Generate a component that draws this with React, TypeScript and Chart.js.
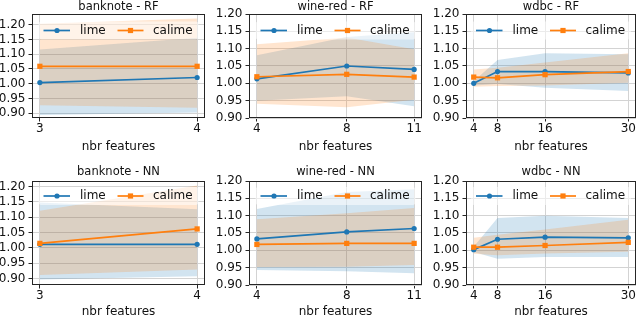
import React, { useEffect, useRef } from "react";
import { Chart, registerables } from "chart.js";

Chart.register(...registerables);

// ---------- data ----------
const titles = ["banknote - RF", "wine-red - RF", "wdbc - RF", "banknote - NN", "wine-red - NN", "wdbc - NN"];
const xLabel = "nbr features";
const legendLabels = ["lime", "calime"];

const featuresBanknote = [3, 4];
const featuresWine = [4, 8, 11];
const featuresWdbc = [4, 8, 16, 30];
const yTicks = [0.9, 0.95, 1.0, 1.05, 1.1, 1.15, 1.2];

const yLimBanknoteRF = [0.884, 1.236];
const yLimBanknoteNN = [0.8795, 1.218];
const yLimFixed = [0.9, 1.2];

// banknote - RF
const bnRfLime = [1.004, 1.021];
const bnRfLimeUp = [1.116, 1.156];
const bnRfLimeLo = [0.894, 0.903];
const bnRfCalime = [1.059, 1.059];
const bnRfCalimeUp = [1.203, 1.221];
const bnRfCalimeLo = [0.927, 0.919];

// wine-red - RF
const wrRfLime = [1.013, 1.05, 1.04];
const wrRfLimeUp = [1.081, 1.134, 1.147];
const wrRfLimeLo = [0.95, 0.963, 0.934];
const wrRfCalime = [1.019, 1.026, 1.018];
const wrRfCalimeUp = [1.113, 1.132, 1.098];
const wrRfCalimeLo = [0.941, 0.931, 0.953];

// wdbc - RF
const wdRfLime = [1.0, 1.034, 1.034, 1.03];
const wdRfLimeUp = [1.006, 1.067, 1.087, 1.084];
const wdRfLimeLo = [0.994, 0.998, 0.987, 0.978];
const wdRfCalime = [1.018, 1.016, 1.025, 1.034];
const wdRfCalimeUp = [1.04, 1.045, 1.06, 1.087];
const wdRfCalimeLo = [0.99, 0.992, 0.994, 1.002];

// banknote - NN
const bnNnLime = [1.012, 1.012];
const bnNnLimeUp = [1.148, 1.126];
const bnNnLimeLo = [0.897, 0.908];
const bnNnCalime = [1.015, 1.062];
const bnNnCalimeUp = [1.121, 1.203];
const bnNnCalimeLo = [0.912, 0.93];

// wine-red - NN
const wrNnLime = [1.033, 1.053, 1.063];
const wrNnLimeUp = [1.119, 1.168, 1.176];
const wrNnLimeLo = [0.943, 0.94, 0.934];
const wrNnCalime = [1.017, 1.02, 1.02];
const wrNnCalimeUp = [1.09, 1.107, 1.122];
const wrNnCalimeLo = [0.952, 0.953, 0.958];

// wdbc - NN
const wdNnLime = [1.002, 1.032, 1.038, 1.036];
const wdNnLimeUp = [1.01, 1.093, 1.1, 1.093];
const wdNnLimeLo = [0.995, 0.976, 0.981, 0.981];
const wdNnCalime = [1.009, 1.009, 1.014, 1.023];
const wdNnCalimeUp = [1.036, 1.045, 1.06, 1.088];
const wdNnCalimeLo = [0.99, 0.986, 0.991, 0.996];

// ---------- layout / style ----------
const COL_LEFT = [0, 213, 426];
const CANVAS_W = [213, 213, 214];
const ROW_TOP = [0, 158];
const CANVAS_H = 158;
const AREA_LEFT = [32, 36, 40];
const AREA_RIGHT = [205, 209, 212];
const AREA_TOP = [14, 23];
const AREA_BOTTOM = [118, 127];
const TITLE_BASE = [10, 17];
const XLABEL_BASE = [150, 157];
const LEGEND_OFF = [16.5, 15];
const X_AXIS_H = 30;

const BLUE = "#1f77b4";
const ORANGE = "#ff7f0e";
const BLUE_FILL = "rgba(31,119,180,0.2)";
const ORANGE_FILL = "rgba(255,127,14,0.2)";
const FONT = '"DejaVu Sans", sans-serif';

type Panel = {
  title: string;
  x: number[];
  lime: number[];
  limeUp: number[];
  limeLo: number[];
  calime: number[];
  calimeUp: number[];
  calimeLo: number[];
  yLim: number[];
  row: number;
  col: number;
};

const panels: Panel[] = [
  { title: titles[0], x: featuresBanknote, lime: bnRfLime, limeUp: bnRfLimeUp, limeLo: bnRfLimeLo, calime: bnRfCalime, calimeUp: bnRfCalimeUp, calimeLo: bnRfCalimeLo, yLim: yLimBanknoteRF, row: 0, col: 0 },
  { title: titles[1], x: featuresWine, lime: wrRfLime, limeUp: wrRfLimeUp, limeLo: wrRfLimeLo, calime: wrRfCalime, calimeUp: wrRfCalimeUp, calimeLo: wrRfCalimeLo, yLim: yLimFixed, row: 0, col: 1 },
  { title: titles[2], x: featuresWdbc, lime: wdRfLime, limeUp: wdRfLimeUp, limeLo: wdRfLimeLo, calime: wdRfCalime, calimeUp: wdRfCalimeUp, calimeLo: wdRfCalimeLo, yLim: yLimFixed, row: 0, col: 2 },
  { title: titles[3], x: featuresBanknote, lime: bnNnLime, limeUp: bnNnLimeUp, limeLo: bnNnLimeLo, calime: bnNnCalime, calimeUp: bnNnCalimeUp, calimeLo: bnNnCalimeLo, yLim: yLimBanknoteNN, row: 1, col: 0 },
  { title: titles[4], x: featuresWine, lime: wrNnLime, limeUp: wrNnLimeUp, limeLo: wrNnLimeLo, calime: wrNnCalime, calimeUp: wrNnCalimeUp, calimeLo: wrNnCalimeLo, yLim: yLimFixed, row: 1, col: 1 },
  { title: titles[5], x: featuresWdbc, lime: wdNnLime, limeUp: wdNnLimeUp, limeLo: wdNnLimeLo, calime: wdNnCalime, calimeUp: wdNnCalimeUp, calimeLo: wdNnCalimeLo, yLim: yLimFixed, row: 1, col: 2 },
];

const pts = (xs: number[], ys: number[]) => xs.map((x, i) => ({ x, y: ys[i] }));

function overlayPlugin(p: Panel) {
  return {
    id: "overlay",
    afterDraw(chart: any) {
      const ctx = chart.ctx as CanvasRenderingContext2D;
      const a = chart.chartArea;
      const cx = (a.left + a.right) / 2;
      ctx.save();
      // frame (spines)
      ctx.strokeStyle = "#262626";
      ctx.lineWidth = 1;
      ctx.strokeRect(a.left + 0.5, a.top + 0.5, a.right - a.left - 1, a.bottom - a.top - 1);

      // title
      ctx.fillStyle = "#111";
      ctx.font = `11.5px ${FONT}`;
      ctx.textAlign = "center";
      ctx.textBaseline = "alphabetic";
      ctx.fillText(p.title, cx, TITLE_BASE[p.row]);

      // x label
      ctx.font = `12px ${FONT}`;
      ctx.fillText(xLabel, cx, XLABEL_BASE[p.row]);

      // legend
      const cy = a.top + LEGEND_OFF[p.row];
      ctx.beginPath();
      (ctx as any).roundRect(cx - 80, cy - 9, 160, 18, 3);
      ctx.fillStyle = "rgba(255,255,255,0.55)";
      ctx.fill();

      ctx.lineWidth = 1.7;
      ctx.strokeStyle = BLUE;
      ctx.beginPath();
      ctx.moveTo(cx - 75, cy);
      ctx.lineTo(cx - 48.5, cy);
      ctx.stroke();
      ctx.fillStyle = BLUE;
      ctx.beginPath();
      ctx.arc(cx - 61.5, cy, 2.6, 0, Math.PI * 2);
      ctx.fill();

      ctx.strokeStyle = ORANGE;
      ctx.beginPath();
      ctx.moveTo(cx - 1, cy);
      ctx.lineTo(cx + 25, cy);
      ctx.stroke();
      ctx.fillStyle = ORANGE;
      ctx.fillRect(cx + 12 - 2.6, cy - 2.6, 5.2, 5.2);

      ctx.fillStyle = "#111";
      ctx.font = `12px ${FONT}`;
      ctx.textAlign = "left";
      ctx.textBaseline = "middle";
      ctx.fillText(legendLabels[0], cx - 38.5, cy);
      ctx.fillText(legendLabels[1], cx + 34.5, cy);
      ctx.restore();
    },
  };
}

function PanelChart({ p }: { p: Panel }) {
  const ref = useRef<HTMLCanvasElement>(null);
  useEffect(() => {
    const canvas = ref.current!;
    const w = CANVAS_W[p.col];
    const first = p.x[0];
    const last = p.x[p.x.length - 1];
    const span = last - first;
    const yAxisW = AREA_LEFT[p.col];
    const chart = new Chart(canvas, {
      type: "line",
      data: {
        datasets: [
          {
            label: legendLabels[1],
            data: pts(p.x, p.calime),
            borderColor: ORANGE,
            backgroundColor: ORANGE,
            borderWidth: 1.7,
            pointStyle: "rect",
            pointRadius: 3.7,
            pointBorderWidth: 0,
            fill: false,
          },
          {
            label: legendLabels[0],
            data: pts(p.x, p.lime),
            borderColor: BLUE,
            backgroundColor: BLUE,
            borderWidth: 1.7,
            pointStyle: "circle",
            pointRadius: 2.6,
            pointBorderWidth: 0,
            fill: false,
          },
          {
            label: "calime+",
            data: pts(p.x, p.calimeUp),
            borderColor: "rgba(0,0,0,0)",
            borderWidth: 0,
            pointRadius: 0,
            backgroundColor: ORANGE_FILL,
            fill: "+1",
          },
          {
            label: "calime-",
            data: pts(p.x, p.calimeLo),
            borderColor: "rgba(0,0,0,0)",
            borderWidth: 0,
            pointRadius: 0,
            fill: false,
          },
          {
            label: "lime+",
            data: pts(p.x, p.limeUp),
            borderColor: "rgba(0,0,0,0)",
            borderWidth: 0,
            pointRadius: 0,
            backgroundColor: BLUE_FILL,
            fill: "+1",
          },
          {
            label: "lime-",
            data: pts(p.x, p.limeLo),
            borderColor: "rgba(0,0,0,0)",
            borderWidth: 0,
            pointRadius: 0,
            fill: false,
          },
        ],
      },
      options: {
        animation: false,
        responsive: false,
        devicePixelRatio: 1,
        events: [],
        layout: {
          padding: {
            left: 0,
            right: w - AREA_RIGHT[p.col],
            top: AREA_TOP[p.row],
            bottom: CANVAS_H - AREA_BOTTOM[p.row] - X_AXIS_H,
          },
        },
        plugins: {
          legend: { display: false },
          title: { display: false },
          tooltip: { enabled: false },
        },
        scales: {
          x: {
            type: "linear",
            min: first - 0.05 * span,
            max: last + 0.05 * span,
            afterBuildTicks: (axis: any) => {
              axis.ticks = p.x.map((v) => ({ value: v }));
            },
            afterFit: (axis: any) => {
              axis.height = X_AXIS_H;
            },
            ticks: {
              font: { family: FONT, size: 12 },
              color: "#111",
              padding: 0,
              maxRotation: 0,
              autoSkip: false,
              callback: (v: any) => String(v),
            },
            grid: {
              color: "#d3d3d3",
              lineWidth: 1,
              tickColor: "#262626",
              tickLength: 3.5,
              drawTicks: true,
            },
            border: { display: false },
          },
          y: {
            type: "linear",
            min: p.yLim[0],
            max: p.yLim[1],
            afterBuildTicks: (axis: any) => {
              axis.ticks = yTicks.map((v) => ({ value: v }));
            },
            afterFit: (axis: any) => {
              axis.width = yAxisW;
            },
            ticks: {
              font: { family: FONT, size: 12 },
              color: "#111",
              padding: 3,
              autoSkip: false,
              callback: (v: any) => Number(v).toFixed(2),
            },
            grid: {
              color: "#d3d3d3",
              lineWidth: 1,
              tickColor: "#262626",
              tickLength: 3.5,
              drawTicks: true,
            },
            border: { display: false },
          },
        },
      },
      plugins: [overlayPlugin(p)],
    } as any);
    return () => chart.destroy();
  }, [p]);
  return (
    <canvas
      ref={ref}
      width={CANVAS_W[p.col]}
      height={CANVAS_H}
      style={{
        position: "absolute",
        left: COL_LEFT[p.col],
        top: ROW_TOP[p.row],
        width: CANVAS_W[p.col],
        height: CANVAS_H,
      }}
    />
  );
}

export default function App() {
  return (
    <div
      style={{
        position: "fixed",
        left: 0,
        top: 0,
        width: 640,
        height: 316,
        background: "#fff",
        overflow: "hidden",
      }}
    >
      {panels.map((p, i) => (
        <PanelChart key={i} p={p} />
      ))}
    </div>
  );
}
